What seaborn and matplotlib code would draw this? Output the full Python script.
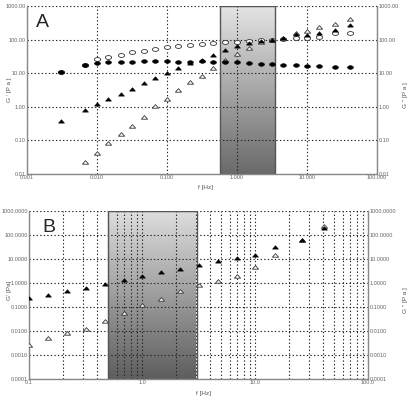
import numpy as np
import matplotlib
matplotlib.use("Agg")
import matplotlib.pyplot as plt
from matplotlib.path import Path
from matplotlib.ticker import FixedLocator, FixedFormatter, LogLocator, NullFormatter
import seaborn as sns

# panel A - frequency sweep
freq_a = [0.00306, 0.0067, 0.01, 0.0144, 0.022, 0.0316, 0.0466, 0.0674, 0.1, 0.144,
          0.213, 0.316, 0.458, 0.674, 1.0, 1.47, 2.18, 3.13, 4.57, 6.9, 10.1, 14.8, 25, 41]
a_open_circle = [11, 17.5, 26, 31, 35, 42, 47, 54, 59, 63, 71, 76,
                 77, 85, 87, 90, 95, 100, 104, 114, 112, 122, 152, 156]
a_fill_circle = [10.9, 17, 19.7, 21, 22, 22, 23.5, 23.5, 23.5, 22, 21, 22.5,
                 22, 22, 21, 19.5, 18.7, 18.3, 17.6, 17.6, 16.3, 16.3, 15.6, 15.3]
a_fill_tri = [0.385, 0.80, 1.19, 1.7, 2.4, 3.5, 5.0, 7.3, 10.3, 14.6, 20, 25,
              35, 49, 65, 77, 90, 100, 112, 144, 137, 154, 190, 275]
a_open_tri = [np.nan, 0.023, 0.043, 0.082, 0.16, 0.27, 0.51, 1.03, 1.7, 3.2, 5.4, 8.4,
              14, 24, 38, 58, 85, 100, 115, 160, 178, 232, 291, 410]

# panel B
freq_b = [0.1, 0.148, 0.216, 0.318, 0.47, 0.69, 1.01, 1.47, 2.18, 3.2, 4.7, 6.9, 10, 15, 25.9, 41]
b_fill_tri = [0.23, 0.32, 0.46, 0.64, 0.91, 1.33, 1.96, 2.8, 4.0, 5.6, 8.3, 10.7, 14.7, 31, 62, 190]
b_open_tri = [0.0026, 0.0052, 0.0085, 0.0117, 0.027, 0.057, 0.12, 0.21, 0.46, 0.83,
              1.25, 1.96, 4.5, 14.7, 62, 237]

a_xticks = [0.001, 0.01, 0.1, 1, 10, 100]
a_xlabels = ["0.001", "0.010", "0.100", "1.000", "10.000", "100.000"]
a_yticks = [0.01, 0.1, 1, 10, 100, 1000]
a_ylabels = ["0.01", "0.10", "1.00", "10.00", "100.00", "1000.00"]
b_xticks = [0.1, 1, 10, 100]
b_xlabels = ["0.1", "1.0", "10.0", "100.0"]
b_yticks = [0.0001, 0.001, 0.01, 0.1, 1, 10, 100, 1000]
b_ylabels = ["0.0001", "0.0010", "0.0100", "0.1000", "1.0000", "10.0000", "100.0000", "1000.0000"]

sns.set_style("white")
plt.rcParams['font.family'] = ['Liberation Sans', 'DejaVu Sans']

# flat ellipse marker
t = np.linspace(0, 2 * np.pi, 40)
ellipse = Path(np.column_stack([np.cos(t), 0.62 * np.sin(t)]), closed=True)
# flat triangle marker
tri = Path([(-1, -0.55), (1, -0.55), (0, 0.6), (-1, -0.55)], closed=True)

fig = plt.figure(figsize=(4.16, 4.0), dpi=100)
axA = fig.add_axes([27 / 416, 1 - 174 / 400, 350 / 416, 168 / 400])
axB = fig.add_axes([29 / 416, 1 - 379 / 400, 339 / 416, 168 / 400])

grad = np.linspace(0, 1, 256).reshape(-1, 1)


def shade(ax, x0, x1, top, bottom):
    # row 0 = bottom colour, drawn at the bottom (origin lower)
    cmap = matplotlib.colors.LinearSegmentedColormap.from_list("g", [bottom, top])
    ax.imshow(grad, cmap=cmap, aspect="auto", extent=(x0, x1, 0, 1), origin="lower",
              transform=ax.get_xaxis_transform(), zorder=0.5, interpolation="bilinear")
    ax.axvspan(x0, x1, facecolor="none", edgecolor="#555555", linewidth=1.0, zorder=0.6)


def style(ax, xt, xl, yt, yl, minor):
    ax.set_xscale("log")
    ax.set_yscale("log")
    ax.set_xlim(xt[0], xt[-1])
    ax.set_ylim(yt[0], yt[-1])
    ax.xaxis.set_major_locator(FixedLocator(xt))
    ax.xaxis.set_major_formatter(FixedFormatter(xl))
    ax.yaxis.set_major_locator(FixedLocator(yt))
    ax.yaxis.set_major_formatter(FixedFormatter(yl))
    ax.yaxis.set_minor_locator(FixedLocator([]))
    if minor:
        ax.xaxis.set_minor_locator(LogLocator(base=10, subs=np.arange(2, 10)))
        ax.xaxis.set_minor_formatter(NullFormatter())
        ax.grid(True, which="minor", axis="x", color="#222222", linestyle=(0, (1.2, 2)), linewidth=0.8)
    else:
        ax.xaxis.set_minor_locator(FixedLocator([]))
    ax.grid(True, which="major", color="#222222", linestyle=(0, (1.2, 2)), linewidth=0.8)
    ax.tick_params(which="both", length=0, labelsize=4.0, labelcolor="#666666",
                   labelleft=True, labelright=True, pad=1.0)
    for s in ["left", "bottom", "right"]:
        ax.spines[s].set_color("#888888")
        ax.spines[s].set_linewidth(1.0)
    ax.spines["top"].set_visible(False)
    ax.set_xlabel("")
    ax.set_ylabel("")


# panel A
shade(axA, 0.57, 3.5, "#e4e4e4", "#6a6a6a")
sns.scatterplot(x=freq_a, y=a_open_circle, ax=axA, marker=ellipse, s=20,
                facecolor="white", edgecolor="#333333", linewidth=0.6, zorder=3)
sns.scatterplot(x=freq_a, y=a_fill_circle, ax=axA, marker=ellipse, s=18,
                facecolor="black", edgecolor="black", linewidth=0.4, zorder=4)
sns.scatterplot(x=freq_a, y=a_open_tri, ax=axA, marker=tri, s=20,
                facecolor="white", edgecolor="#333333", linewidth=0.6, zorder=3)
sns.scatterplot(x=freq_a, y=a_fill_tri, ax=axA, marker=tri, s=18,
                facecolor="black", edgecolor="black", linewidth=0.4, zorder=4)
style(axA, a_xticks, a_xlabels, a_yticks, a_ylabels, minor=False)
axA.text(0.025, 0.95, "A", transform=axA.transAxes, fontsize=14, va="top", ha="left")

# panel B
shade(axB, 0.5, 3.05, "#dedede", "#5e5e5e")
sns.scatterplot(x=freq_b, y=b_open_tri, ax=axB, marker=tri, s=20,
                facecolor="white", edgecolor="#333333", linewidth=0.6, zorder=3)
sns.scatterplot(x=freq_b, y=b_fill_tri, ax=axB, marker=tri, s=18,
                facecolor="black", edgecolor="black", linewidth=0.4, zorder=4)
style(axB, b_xticks, b_xlabels, b_yticks, b_ylabels, minor=True)
axB.text(0.04, 0.95, "B", transform=axB.transAxes, fontsize=14, va="top", ha="left")

# axis titles
lab = dict(fontsize=4.6, color="#555555", rotation=90, va="center", ha="center")
fig.text(10 / 416, 1 - 90 / 400, "G ' [P a ]", **lab)
fig.text(405 / 416, 1 - 95 / 400, "G '' [P a ]", **lab)
fig.text(10 / 416, 1 - 290 / 400, "G' [Pa]", **lab)
fig.text(406 / 416, 1 - 300 / 400, "G '' [P a ]", **lab)
fig.text(205 / 416, 1 - 188 / 400, "f [Hz]", fontsize=4.6, color="#555555", ha="center", va="center")
fig.text(203 / 416, 1 - 393 / 400, "f [Hz]", fontsize=4.6, color="#555555", ha="center", va="center")

fig.savefig("out.png", dpi=100)
